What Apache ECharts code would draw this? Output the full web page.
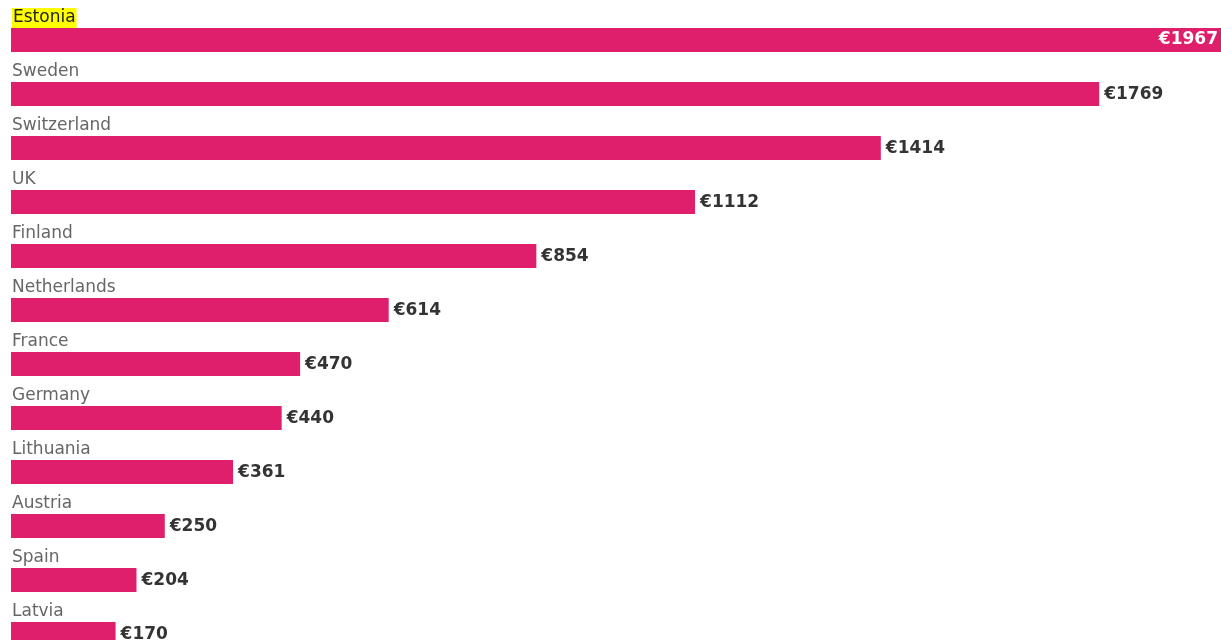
<!DOCTYPE html>
<html lang="en">
<head>
    <meta charset="UTF-8">
    <title>Chart</title>
</head>
<style>
    body { margin: 0; background-color: #fff; overflow: hidden; }
    #main { width: 1221px; height: 661px; }
</style>
<script src="https://cdn.jsdelivr.net/npm/echarts@6/dist/echarts.min.js"></script>
<body>
    <div id="main"></div>
    <script>
        let countries = ['Estonia', 'Sweden', 'Switzerland', 'UK', 'Finland', 'Netherlands',
            'France', 'Germany', 'Lithuania', 'Austria', 'Spain', 'Latvia'];
        let amounts = [1967, 1769, 1414, 1112, 854, 614, 470, 440, 361, 250, 204, 170];
        let highlight = 'Estonia';

        let myChart = echarts.init(document.getElementById('main'));
        let barColor = '#e01f6c';
        let font = "'DejaVu Sans', Verdana, sans-serif";

        // highlighted row: value inside the bar, name on a yellow marker
        let valueData = amounts.map((v, i) => {
            let d = { value: v };
            if (countries[i] === highlight) {
                d.label = { position: 'insideRight', color: '#fff', offset: [2, 0] };
            }
            return d;
        });
        let nameData = amounts.map((v, i) => {
            let d = { value: v };
            if (countries[i] === highlight) {
                d.label = { color: '#222', backgroundColor: '#ffff00', padding: [2, 1, 1, 1] };
            }
            return d;
        });

        option = {
            animation: false,
            grid: { left: 11, right: 0, top: 13, bottom: 0 },
            xAxis: {
                type: 'value', min: 0, max: 1967, show: false
            },
            yAxis: {
                type: 'category', data: countries, inverse: true, show: false
            },
            series: [
                {
                    type: 'bar',
                    data: valueData,
                    barWidth: 24,
                    itemStyle: { color: barColor },
                    label: {
                        show: true,
                        position: 'right',
                        distance: 5,
                        offset: [0, 1],
                        formatter: p => '€' + p.value,
                        fontFamily: font,
                        fontSize: 17,
                        fontWeight: 'bold',
                        color: '#333'
                    }
                },
                {
                    // transparent copy, only carries the country names above the bars
                    type: 'bar',
                    data: nameData,
                    barWidth: 24,
                    barGap: '-100%',
                    itemStyle: { color: 'transparent' },
                    silent: true,
                    label: {
                        show: true,
                        position: [1, -10],
                        align: 'left',
                        verticalAlign: 'middle',
                        formatter: p => p.name,
                        fontFamily: font,
                        fontSize: 17,
                        color: '#666'
                    }
                }
            ]
        };

        myChart.setOption(option);
    </script>
</body>
</html>
